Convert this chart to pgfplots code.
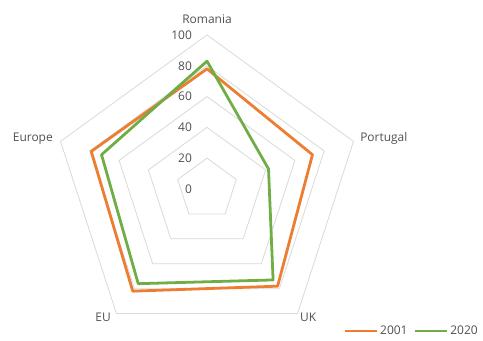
\documentclass[border=0pt]{standalone}
\usepackage{pgfplots}
\pgfplotsset{compat=1.18}
\usepackage{fontspec}
\setmainfont{Open Sans}
\definecolor{ser1}{HTML}{ED7D31}
\definecolor{ser2}{HTML}{70AD47}
\definecolor{gridc}{HTML}{D9D9D9}
\definecolor{txt}{HTML}{505050}
\tikzset{lab/.style={text=txt, font=\fontsize{12pt}{14pt}\selectfont, inner sep=0pt}}
\begin{document}
\begin{tikzpicture}
\begin{axis}[
  x=1.54bp, y=1.54bp,
  hide axis, clip=false,
  xmin=-134.4, xmax=179.2, ymin=-96.1, ymax=122.7,
  legend columns=2,
  legend style={draw=none, fill=none, at={(axis cs:132.8,-92.2)}, anchor=center,
    font=\fontsize{12pt}{14pt}\selectfont\color{txt},
    /tikz/every even column/.append style={column sep=4bp}},
  legend image code/.code={\draw[#1, line width=2.8pt] (0bp,0bp) -- (32bp,0bp);},
]
\path (axis cs:-134.4,-96.1) rectangle (axis cs:179.2,122.7);
% grid pentagons
\addplot[gridc, line width=0.8pt, forget plot, data cs=polar] coordinates {(90,20) (18,20) (-54,20) (-126,20) (-198,20)} -- cycle;
\addplot[gridc, line width=0.8pt, forget plot, data cs=polar] coordinates {(90,40) (18,40) (-54,40) (-126,40) (-198,40)} -- cycle;
\addplot[gridc, line width=0.8pt, forget plot, data cs=polar] coordinates {(90,60) (18,60) (-54,60) (-126,60) (-198,60)} -- cycle;
\addplot[gridc, line width=0.8pt, forget plot, data cs=polar] coordinates {(90,80) (18,80) (-54,80) (-126,80) (-198,80)} -- cycle;
\addplot[gridc, line width=0.8pt, forget plot, data cs=polar] coordinates {(90,100) (18,100) (-54,100) (-126,100) (-198,100)} -- cycle;
\addplot[ser1, line width=2.8pt, line join=round, data cs=polar] coordinates {(90,78) (18,72) (-54,78) (-126,82) (-198,79)} -- cycle;
\addlegendentry{2001}
\addplot[ser2, line width=2.8pt, line join=round, data cs=polar] coordinates {(90,83) (18,42) (-54,73) (-126,76) (-198,72)} -- cycle;
\addlegendentry{2020}
% radial tick labels
\node[anchor=east, lab] at (axis cs:-9.7,0) {0};
\node[anchor=east, lab] at (axis cs:-9.7,20) {20};
\node[anchor=east, lab] at (axis cs:-9.7,40) {40};
\node[anchor=east, lab] at (axis cs:-9.7,60) {60};
\node[anchor=east, lab] at (axis cs:-9.7,80) {80};
\node[anchor=east, lab] at (axis cs:-9.7,100) {100};
% category labels
\node[anchor=center, lab] at (axis cs:0,110.4) {Romania};
\node[anchor=west, lab] at (axis cs:99.4,33.1) {Portugal};
\node[anchor=west, lab] at (axis cs:60.4,-83.1) {UK};
\node[anchor=east, lab] at (axis cs:-62.3,-83.1) {EU};
\node[anchor=east, lab] at (axis cs:-100,32.5) {Europe};
\end{axis}
\end{tikzpicture}
\end{document}
